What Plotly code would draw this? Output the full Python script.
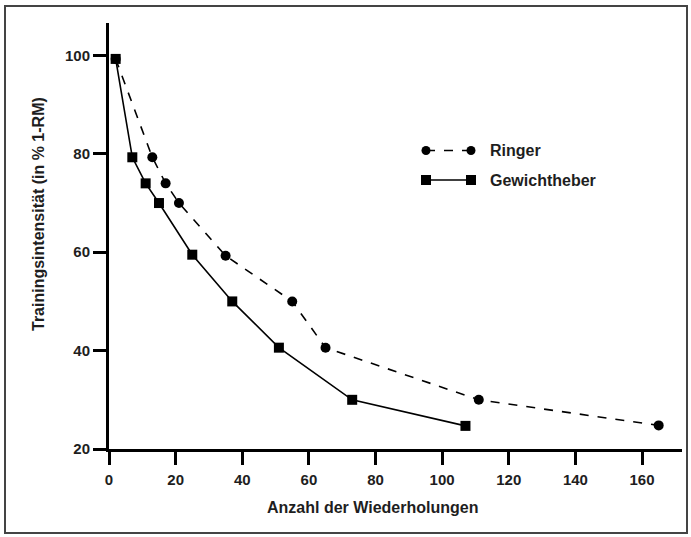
import plotly.graph_objects as go

# Data
ringer_x = [2, 13, 17, 21, 35, 55, 65, 111, 165]
ringer_y = [99.3, 79.3, 74, 70, 59.3, 50, 40.6, 30, 24.8]
gew_x = [2, 7, 11, 15, 25, 37, 51, 73, 107]
gew_y = [99.3, 79.3, 74, 70, 59.5, 50, 40.6, 30, 24.7]
x_ticks = [0, 20, 40, 60, 80, 100, 120, 140, 160]
y_ticks = [20, 40, 60, 80, 100]
series_names = ["Ringer", "Gewichtheber"]

W, H = 691, 537
L, R, T, B = 109, 682, 23, 449  # plot area in px

def px2x(px):
    return (px - L) / (R - L)

def py2y(py):
    return (B - py) / (B - T)

FONT = "Liberation Sans, Arial, sans-serif"
TXT = "#1e1e1e"

fig = go.Figure()
fig.add_trace(go.Scatter(x=ringer_x, y=ringer_y, mode="lines+markers", name=series_names[0],
                         line=dict(color="black", width=1.6, dash="dash"),
                         marker=dict(symbol="circle", size=10, color="black"),
                         showlegend=False))
fig.add_trace(go.Scatter(x=gew_x, y=gew_y, mode="lines+markers", name=series_names[1],
                         line=dict(color="black", width=1.6),
                         marker=dict(symbol="square", size=10, color="black"),
                         showlegend=False))

axis_common = dict(showgrid=False, zeroline=False, showline=True, linecolor="black", linewidth=3,
                   ticks="outside", ticklen=13, tickwidth=3, tickcolor="black",
                   tickfont=dict(family=FONT, size=15, color=TXT, weight="bold"))
fig.update_xaxes(range=[0, 172], tickvals=x_ticks, ticklabelstandoff=2, **axis_common)
fig.update_yaxes(range=[20, 106.6], tickvals=y_ticks, **axis_common)

shapes = []
# outer frame
shapes.append(dict(type="rect", xref="paper", yref="paper",
                   x0=px2x(5), x1=px2x(687), y0=py2y(533), y1=py2y(6),
                   line=dict(color="#444", width=2), fillcolor="rgba(0,0,0,0)", layer="below"))
# manual legend samples
leg_rows = [(150.5, "circle", "dash"), (180, "square", "solid")]
for (yy, sym, dash) in leg_rows:
    shapes.append(dict(type="line", xref="paper", yref="paper",
                       x0=px2x(426), x1=px2x(471), y0=py2y(yy), y1=py2y(yy),
                       line=dict(color="black", width=1.6, dash=dash)))
    for cx in (426, 471):
        if sym == "circle":
            shapes.append(dict(type="circle", xref="paper", yref="paper",
                               x0=px2x(cx - 4.5), x1=px2x(cx + 4.5), y0=py2y(yy + 4.5), y1=py2y(yy - 4.5),
                               fillcolor="black", line=dict(color="black", width=0)))
        else:
            shapes.append(dict(type="rect", xref="paper", yref="paper",
                               x0=px2x(cx - 5), x1=px2x(cx + 5), y0=py2y(yy + 5), y1=py2y(yy - 5),
                               fillcolor="black", line=dict(color="black", width=0)))

annotations = []
for (yy, _, _), name in zip(leg_rows, series_names):
    annotations.append(dict(xref="paper", yref="paper", x=px2x(488), y=py2y(yy), xanchor="left",
                            yanchor="middle", text=name, showarrow=False,
                            font=dict(family=FONT, size=16, color=TXT, weight="bold")))
# axis titles
annotations.append(dict(xref="paper", yref="paper", x=px2x(372), y=py2y(507), xanchor="center",
                        yanchor="middle", text="Anzahl der Wiederholungen", showarrow=False,
                        font=dict(family=FONT, size=16, color=TXT, weight="bold")))
annotations.append(dict(xref="paper", yref="paper", x=px2x(38), y=py2y(214), xanchor="center",
                        yanchor="middle", text="Trainingsintensität (in % 1-RM)", showarrow=False,
                        textangle=-90,
                        font=dict(family=FONT, size=16, color=TXT, weight="bold")))

fig.update_layout(width=W, height=H, margin=dict(l=L, r=W - R, t=T, b=H - B, pad=0),
                  paper_bgcolor="white", plot_bgcolor="white",
                  shapes=shapes, annotations=annotations, showlegend=False)

fig.write_html("out.html")
